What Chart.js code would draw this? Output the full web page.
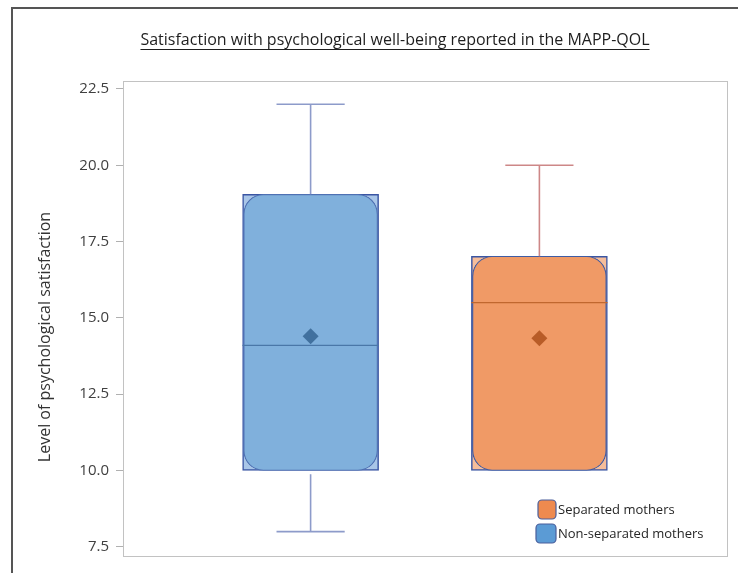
<!DOCTYPE html>
<html>
<head>
<meta charset="utf-8">
<script src="https://cdn.jsdelivr.net/npm/chart.js@4.4.1/dist/chart.umd.min.js"></script>
<style>
  html, body { margin: 0; padding: 0; background: #fff; }
  #wrap { width: 738px; height: 573px; }
</style>
</head>
<body>
<div id="wrap"><canvas id="boxChart" width="738" height="573"></canvas></div>
<script>
// Data
const groups = ["Non-separated mothers", "Separated mothers"];
const positions = [1, 2];
const minimums = [8, 10];
const lowerQuartiles = [10, 10];
const medians = [14.1, 15.5];
const upperQuartiles = [19.05, 17.02];
const maximums = [22, 20];
const means = [14.4, 14.33];
const tickValues = [7.5, 10, 12.5, 15, 17.5, 20, 22.5];

// Colours
const boxFill = ["#80b0dc", "#f09a66"];
const cornerFill = ["#a9c6e8", "#f6bd9a"];
const roundBorder = ["#4f71b3", "#3f5ca4"];
const medianColor = ["#4a77a8", "#c0672f"];
const meanColor = ["#41709e", "#b85c27"];
const whiskerColor = ["#8d9bca", "#cd8787"];

const BOX_PX = 136;      // box width in pixels
const HALF_BOX = 0.2976; // half box width in x units
const HALF_CAP = 0.149;  // half whisker cap width in x units

function whiskerPoints(i) {
  const x = positions[i];
  const gap = { x: x, y: null };
  const pts = [
    { x: x - HALF_CAP, y: maximums[i] }, { x: x + HALF_CAP, y: maximums[i] }, gap,
    { x: x, y: maximums[i] }, { x: x, y: upperQuartiles[i] }
  ];
  if (minimums[i] < lowerQuartiles[i]) {
    pts.push(gap, { x: x, y: lowerQuartiles[i] - 0.12 }, { x: x, y: minimums[i] }, gap,
      { x: x - HALF_CAP, y: minimums[i] }, { x: x + HALF_CAP, y: minimums[i] });
  }
  return pts;
}

const datasets = [];

// outer square box (lighter corners)
datasets.push({
  type: "bar",
  label: "box-outer",
  data: positions.map((x, i) => ({ x: x, y: [lowerQuartiles[i], upperQuartiles[i]] })),
  backgroundColor: cornerFill,
  borderColor: "#3a55a3",
  borderWidth: 1.5,
  borderSkipped: false,
  barThickness: BOX_PX,
  grouped: false,
  order: 6
});

// rounded inner box
datasets.push({
  type: "bar",
  label: "box-inner",
  data: positions.map((x, i) => ({ x: x, y: [lowerQuartiles[i], upperQuartiles[i]] })),
  backgroundColor: boxFill,
  borderColor: roundBorder,
  borderWidth: 1.2,
  borderRadius: 20,
  borderSkipped: false,
  barThickness: BOX_PX - 2,
  grouped: false,
  order: 5
});

groups.forEach((g, i) => {
  datasets.push({
    type: "line",
    label: "whisker-" + i,
    data: whiskerPoints(i),
    borderColor: whiskerColor[i],
    borderWidth: 1.6,
    pointRadius: 0,
    spanGaps: false,
    order: 4
  });
  datasets.push({
    type: "line",
    label: "median-" + i,
    data: [
      { x: positions[i] - HALF_BOX, y: medians[i] },
      { x: positions[i] + HALF_BOX, y: medians[i] }
    ],
    borderColor: medianColor[i],
    borderWidth: 1.4,
    pointRadius: 0,
    order: 3
  });
});

datasets.push({
  type: "scatter",
  label: "mean",
  data: positions.map((x, i) => ({ x: x, y: means[i] })),
  pointStyle: "rectRot",
  pointRadius: 8,
  pointHoverRadius: 8,
  backgroundColor: meanColor,
  borderWidth: 0,
  order: 1
});

// titles, frame and legend
const decorations = {
  id: "decorations",
  beforeDraw(chart) {
    const ctx = chart.ctx;
    ctx.save();
    ctx.strokeStyle = "#555";
    ctx.lineWidth = 2;
    ctx.beginPath();
    ctx.moveTo(12, 573);
    ctx.lineTo(12, 8);
    ctx.lineTo(738, 8);
    ctx.stroke();
    ctx.restore();
  },
  beforeDatasetsDraw(chart) {
    const a = chart.chartArea;
    const ctx = chart.ctx;
    ctx.save();
    ctx.strokeStyle = "#c2c2c2";
    ctx.lineWidth = 1;
    ctx.strokeRect(a.left + 0.5, a.top + 0.5, a.right - a.left, a.bottom - a.top);
    ctx.restore();
  },
  afterDraw(chart) {
    const ctx = chart.ctx;
    ctx.save();
    // main title, underlined
    const title = "Satisfaction with psychological well-being reported in the MAPP-QOL";
    ctx.font = "16px 'Open Sans'";
    ctx.fillStyle = "#1e1e1e";
    ctx.textAlign = "center";
    ctx.textBaseline = "alphabetic";
    const cx = 395;
    ctx.fillText(title, cx, 45);
    const w = ctx.measureText(title).width;
    ctx.strokeStyle = "#1e1e1e";
    ctx.lineWidth = 1;
    ctx.beginPath();
    ctx.moveTo(cx - w / 2, 49.5);
    ctx.lineTo(cx + w / 2, 49.5);
    ctx.stroke();

    // y axis title
    ctx.save();
    ctx.translate(45, 337);
    ctx.rotate(-Math.PI / 2);
    ctx.font = "16px 'Open Sans'";
    ctx.fillStyle = "#333";
    ctx.textAlign = "center";
    ctx.textBaseline = "middle";
    ctx.fillText("Level of psychological satisfaction", 0, 0);
    ctx.restore();

    // legend
    const items = [
      { text: groups[1], color: "#ee8a4f", y: 509 },
      { text: groups[0], color: "#5b9bd5", y: 533 }
    ];
    ctx.font = "13px 'Open Sans'";
    ctx.textAlign = "left";
    ctx.textBaseline = "middle";
    items.forEach((it, k) => {
      const bx = k === 0 ? 538 : 536;
      const bw = k === 0 ? 18 : 20;
      ctx.beginPath();
      ctx.roundRect(bx, it.y - 9, bw, 19, 4);
      ctx.fillStyle = it.color;
      ctx.fill();
      ctx.strokeStyle = "#4a5f9c";
      ctx.lineWidth = 1.2;
      ctx.stroke();
      ctx.fillStyle = "#262626";
      ctx.fillText(it.text, bx + bw + 2, it.y + 1);
    });
    ctx.restore();
  }
};

new Chart(document.getElementById("boxChart"), {
  type: "bar",
  data: { datasets: datasets },
  options: {
    responsive: false,
    animation: false,
    layout: { padding: { top: 81, right: 11, bottom: 17, left: 0 } },
    plugins: {
      legend: { display: false },
      tooltip: { enabled: false },
      title: { display: false }
    },
    scales: {
      x: {
        type: "linear",
        min: 0.18,
        max: 2.82,
        offset: false,
        display: false
      },
      y: {
        type: "linear",
        min: 7.2,
        max: 22.76,
        afterBuildTicks: scale => { scale.ticks = tickValues.map(v => ({ value: v })); },
        afterFit: scale => { scale.width = 123; },
        ticks: {
          font: { family: "'Open Sans'", size: 15 },
          color: "#404040",
          padding: 7,
          callback: v => v.toFixed(1)
        },
        grid: { drawOnChartArea: false, drawTicks: true, tickLength: 7, color: "#b0b0b0" },
        border: { display: true, color: "#c2c2c2" }
      }
    }
  },
  plugins: [decorations]
});
</script>
</body>
</html>
